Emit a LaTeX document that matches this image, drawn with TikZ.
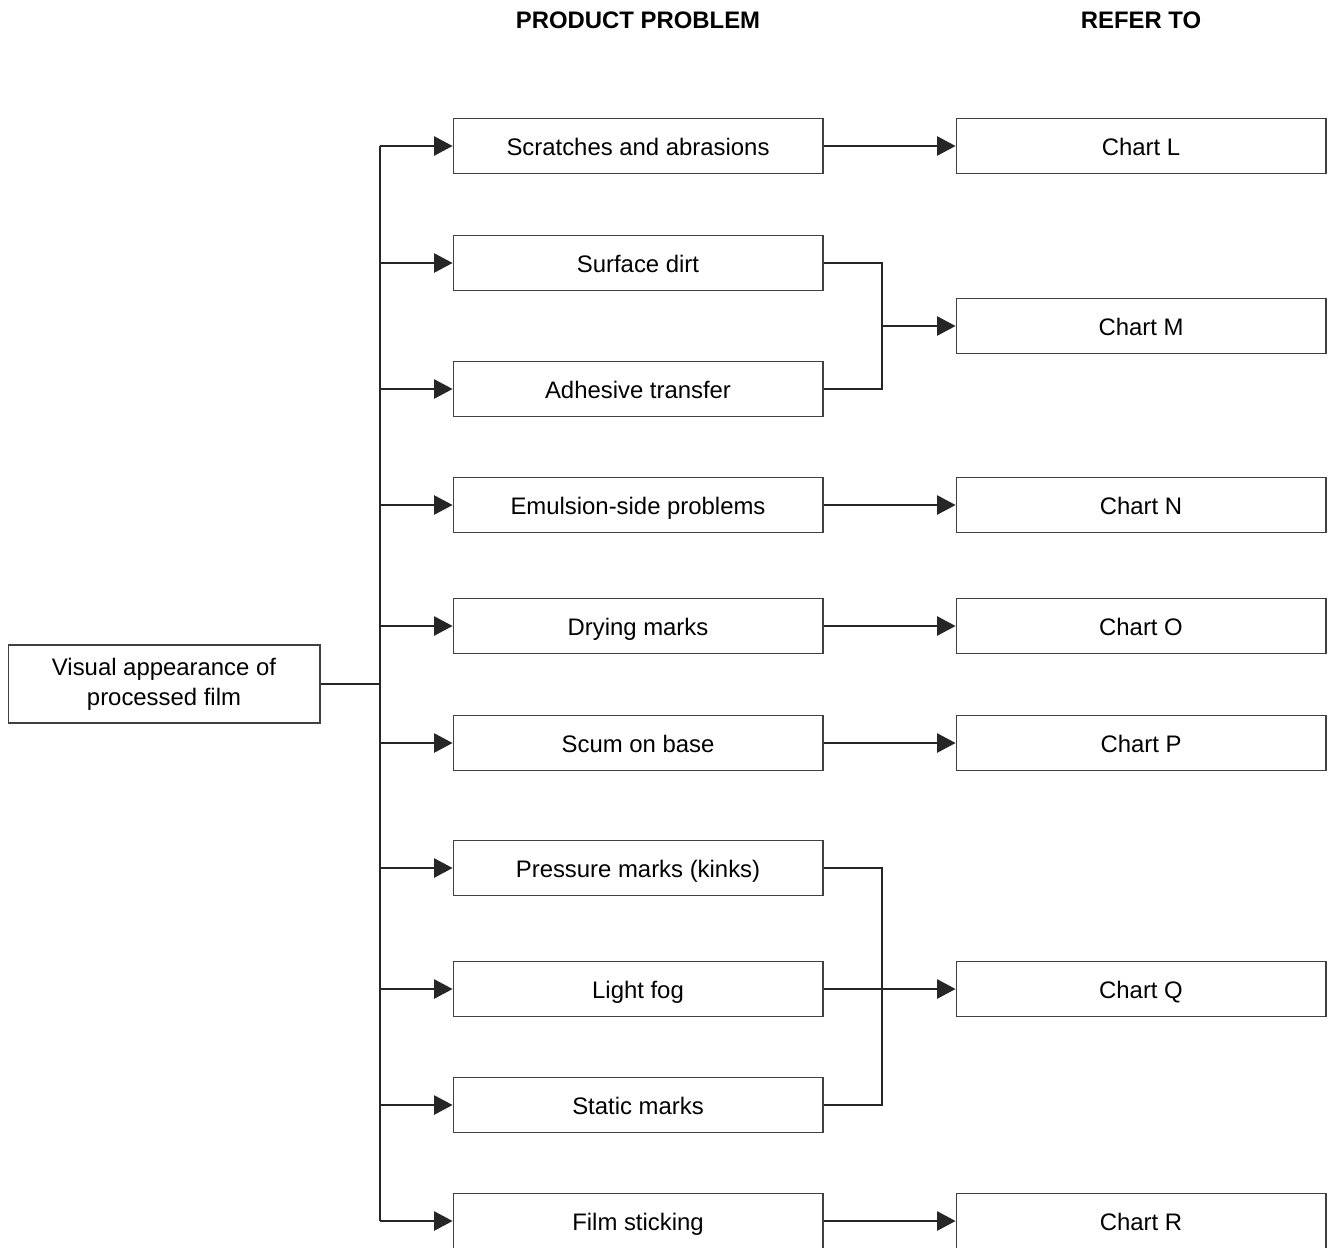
\documentclass[tikz,border=0pt]{standalone}
\usepackage{fontspec}
\setmainfont{Liberation Sans}
\usetikzlibrary{arrows.meta,positioning}

\begin{document}
\begin{tikzpicture}[x=0.02cm, y=-0.02cm,
  frame/.style={draw=black!75, line width=0.6pt, inner sep=0pt, font=\fontsize{13.6}{17}\selectfont},
  box/.style={frame, minimum width=7.4cm, minimum height=1.1cm, text height=11pt, text depth=0pt},
  link/.style={draw=black!85, line width=0.6pt},
  arr/.style={link, -{Triangle[length=0.37cm, width=0.39cm]}},
  head/.style={font=\fontsize{13.6}{17}\selectfont\bfseries}]

  \useasboundingbox (0,0) rectangle (1331,1247);

  % Column headers
  \node[head] (hprob) at (638,20) {PRODUCT PROBLEM};
  \node[head] (hrefer) at (1141,20) {REFER TO};

  % Start box
  \node[frame, minimum width=6.24cm, minimum height=1.56cm, align=center] (visual) at (164,684) {Visual appearance of\\processed film};

  % Product problems
  \foreach \name/\y/\txt in {scr/146/Scratches and abrasions, dirt/263/Surface dirt, adh/389/Adhesive transfer, emul/505/Emulsion-side problems, dry/626/Drying marks, scum/743/Scum on base, press/868/Pressure marks (kinks), fog/989/Light fog, stat/1105/Static marks, stick/1221/Film sticking}
    \node[box] (\name) at (638,\y) {\txt};

  % Charts to refer to
  \foreach \name/\y/\txt in {chL/146/Chart L, chM/326/Chart M, chN/505/Chart N, chO/626/Chart O, chP/743/Chart P, chQ/989/Chart Q, chR/1221/Chart R}
    \node[box] (\name) at (1141,\y) {\txt};

  % Trunk from the start box
  \coordinate (trunktop) at (380,146);
  \coordinate (trunkbot) at (380,1221);
  \draw[link] (visual.east) -- (visual.east -| trunktop);
  \draw[link] (trunktop) -- (trunkbot);
  \foreach \name in {scr, dirt, adh, emul, dry, scum, press, fog, stat, stick}
    \draw[arr] (trunktop |- \name.west) -- (\name.west);

  % Single links to charts
  \foreach \from/\to in {scr/chL, emul/chN, dry/chO, scum/chP, fog/chQ, stick/chR}
    \draw[arr] (\from.east) -- (\to.west);

  % Merged links
  \coordinate (mergeM) at (882,326);
  \draw[link] (dirt.east) -| (mergeM) |- (adh.east);
  \draw[arr] (mergeM) -- (chM.west);

  \coordinate (mergeQ) at (882,989);
  \draw[link] (press.east) -| (mergeQ) |- (stat.east);

\end{tikzpicture}
\end{document}
